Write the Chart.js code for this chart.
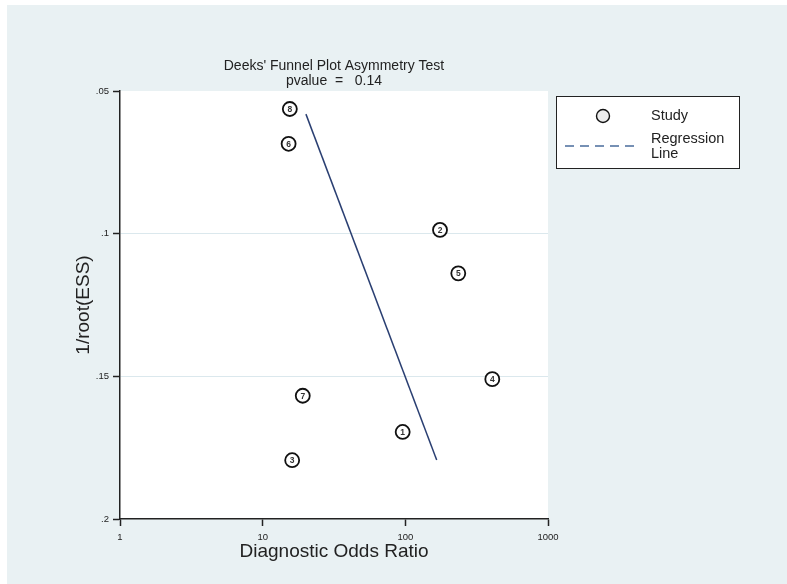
<!DOCTYPE html>
<html>
<head>
<meta charset="utf-8">
<script src="https://cdn.jsdelivr.net/npm/chart.js@4.4.0/dist/chart.umd.min.js"></script>
<style>
  body { margin: 0; background: #fff; }
  canvas { display: block; }
</style>
</head>
<body>
<canvas id="chart" width="787" height="584"></canvas>
<script>
// study data
const studyIds = ['1', '2', '3', '4', '5', '6', '7', '8'];
const studyDOR = [95.8, 175, 16.1, 407, 235, 15.2, 19.1, 15.5];
const studyInvRootESS = [0.1695, 0.0987, 0.1794, 0.151, 0.1139, 0.0685, 0.1568, 0.0563];

// regression line end points
const lineDOR = [20.1, 165.9];
const lineInvRootESS = [0.0581, 0.1793];

const xTicks = [1, 10, 100, 1000];
const xTickLabels = ['1', '10', '100', '1000'];
const yTicks = [0.05, 0.1, 0.15, 0.2];
const yTickLabels = ['.05', '.1', '.15', '.2'];

const titleLines = ["Deeks' Funnel Plot Asymmetry Test", 'pvalue  =   0.14'];

const FONT = "Arial, 'Liberation Sans', sans-serif";
const BG = '#e9f1f3';

const backdrop = {
  id: 'backdrop',
  beforeDraw(chart) {
    const { ctx, chartArea: a, width, height } = chart;
    ctx.save();
    ctx.fillStyle = '#fff';
    ctx.fillRect(0, 0, width, height);
    ctx.fillStyle = BG;
    ctx.fillRect(7, 5, width - 7, height - 5);
    ctx.fillStyle = '#fff';
    ctx.fillRect(a.left, a.top, a.right - a.left, a.bottom - a.top);
    ctx.restore();
  },
  afterDraw(chart) {
    const { ctx, chartArea: a } = chart;
    ctx.save();
    // title
    const cx = (a.left + a.right) / 2;
    ctx.fillStyle = '#222';
    ctx.font = '14px ' + FONT;
    ctx.textAlign = 'center';
    ctx.textBaseline = 'middle';
    ctx.fillText(titleLines[0], cx, 66);
    ctx.fillText(titleLines[1], cx, 81);

    // numbers inside the study circles
    const meta = chart.getDatasetMeta(0);
    ctx.font = 'bold 8.5px ' + FONT;
    ctx.fillStyle = '#333';
    meta.data.forEach((pt, i) => {
      ctx.fillText(studyIds[i], pt.x, pt.y + 0.5);
    });

    // legend box
    const lx = 556, ly = 96, lw = 183, lh = 72;
    ctx.fillStyle = '#fff';
    ctx.fillRect(lx, ly, lw, lh);
    ctx.strokeStyle = '#222';
    ctx.lineWidth = 1;
    ctx.strokeRect(lx + 0.5, ly + 0.5, lw, lh);

    ctx.beginPath();
    ctx.arc(603, 116, 6.5, 0, Math.PI * 2);
    ctx.fillStyle = '#ececec';
    ctx.fill();
    ctx.lineWidth = 1.4;
    ctx.strokeStyle = '#111';
    ctx.stroke();

    ctx.beginPath();
    ctx.setLineDash([9, 6]);
    ctx.moveTo(565, 146);
    ctx.lineTo(640, 146);
    ctx.strokeStyle = '#4a6c9c';
    ctx.lineWidth = 1.3;
    ctx.stroke();
    ctx.setLineDash([]);

    ctx.fillStyle = '#222';
    ctx.font = '14.5px ' + FONT;
    ctx.textAlign = 'left';
    ctx.fillText('Study', 651, 116);
    ctx.fillText('Regression', 651, 139);
    ctx.fillText('Line', 651, 154);
    ctx.restore();
  }
};

new Chart(document.getElementById('chart'), {
  type: 'scatter',
  data: {
    datasets: [
      {
        label: 'Study',
        data: studyDOR.map((x, i) => ({ x, y: studyInvRootESS[i] })),
        pointRadius: 7,
        pointBorderWidth: 1.8,
        pointBackgroundColor: '#fff',
        pointBorderColor: '#111'
      },
      {
        label: 'Regression Line',
        data: lineDOR.map((x, i) => ({ x, y: lineInvRootESS[i] })),
        showLine: true,
        pointRadius: 0,
        borderColor: '#2a3f72',
        borderWidth: 1.5
      }
    ]
  },
  options: {
    responsive: false,
    animation: false,
    layout: { padding: { top: 91, right: 239, left: 0, bottom: 0 } },
    plugins: {
      legend: { display: false },
      title: { display: false },
      tooltip: { enabled: false }
    },
    scales: {
      x: {
        type: 'logarithmic',
        min: 1,
        max: 1000,
        afterBuildTicks: s => { s.ticks = xTicks.map(v => ({ value: v })); },
        afterFit: s => { s.height = 65; },
        ticks: {
          autoSkip: false,
          maxRotation: 0,
          padding: 6,
          color: '#222',
          font: { family: FONT, size: 9.5 },
          callback: v => xTickLabels[xTicks.indexOf(v)]
        },
        grid: { color: 'rgba(0,0,0,0)', tickColor: '#222', tickLength: 7, tickWidth: 1.5 },
        border: { color: '#222', width: 1.5 },
        title: {
          display: true,
          text: 'Diagnostic Odds Ratio',
          color: '#222',
          font: { family: FONT, size: 19 },
          padding: { top: 0, bottom: 21 }
        }
      },
      y: {
        type: 'linear',
        reverse: true,
        min: 0.05,
        max: 0.2,
        afterBuildTicks: s => { s.ticks = yTicks.map(v => ({ value: v })); },
        afterFit: s => { s.width = 120; },
        ticks: {
          autoSkip: false,
          padding: 4,
          color: '#222',
          font: { family: FONT, size: 9.5 },
          callback: v => yTickLabels[yTicks.indexOf(v)]
        },
        grid: {
          color: c => (c.tick && (c.tick.value === 0.1 || c.tick.value === 0.15)) ? '#dbe8ed' : 'rgba(0,0,0,0)',
          tickColor: '#222',
          tickLength: 7,
          tickWidth: 1.5
        },
        border: { color: '#222', width: 1.5 },
        title: {
          display: true,
          text: '1/root(ESS)',
          color: '#222',
          font: { family: FONT, size: 19 },
          padding: { top: 72, bottom: 0 }
        }
      }
    }
  },
  plugins: [backdrop]
});
</script>
</body>
</html>
